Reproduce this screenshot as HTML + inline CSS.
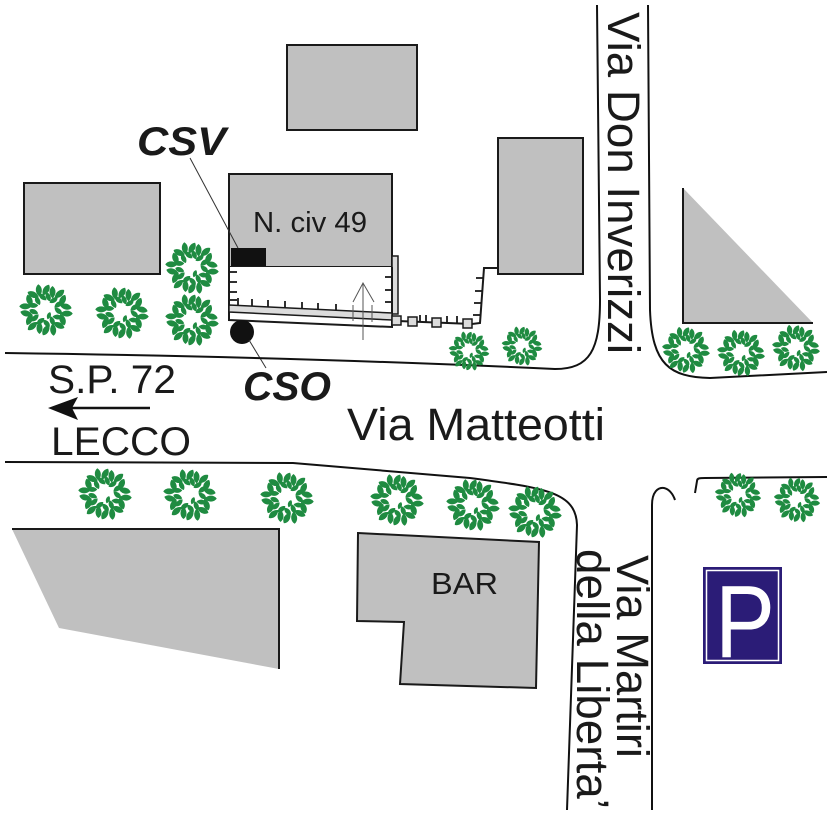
<!DOCTYPE html>
<html>
<head>
<meta charset="utf-8">
<style>
html,body{margin:0;padding:0;background:#fff;}
svg{display:block;}
text{font-family:"Liberation Sans",Arial,sans-serif;fill:#1a1a1a;}
</style>
</head>
<body>
<svg width="827" height="827" viewBox="0 0 827 827" xmlns="http://www.w3.org/2000/svg">
<defs>
  <path id="L" d="M0,-6.5 C4.2,-3.5 4.2,2.5 0,6.5 C-4.2,2.5 -4.2,-3.5 0,-6.5Z"/>
  <path id="S" d="M0,-5 C3.4,-2.8 3.4,2 0,5 C-3.4,2 -3.4,-2.8 0,-5Z"/>
  <g id="tree" fill="#1f8b41">
    <use href="#L" transform="rotate(0) translate(0,-21) rotate(30)"/>
    <use href="#L" transform="rotate(20) translate(0,-20) rotate(-20)"/>
    <use href="#L" transform="rotate(40) translate(0,-22) rotate(10)"/>
    <use href="#L" transform="rotate(60) translate(0,-20) rotate(-35)"/>
    <use href="#L" transform="rotate(80) translate(0,-21) rotate(25)"/>
    <use href="#L" transform="rotate(100) translate(0,-22) rotate(-10)"/>
    <use href="#L" transform="rotate(120) translate(0,-20) rotate(40)"/>
    <use href="#L" transform="rotate(140) translate(0,-21) rotate(-25)"/>
    <use href="#L" transform="rotate(160) translate(0,-22) rotate(15)"/>
    <use href="#L" transform="rotate(180) translate(0,-21) rotate(30)"/>
    <use href="#L" transform="rotate(200) translate(0,-20) rotate(-20)"/>
    <use href="#L" transform="rotate(220) translate(0,-22) rotate(10)"/>
    <use href="#L" transform="rotate(240) translate(0,-20) rotate(-35)"/>
    <use href="#L" transform="rotate(260) translate(0,-21) rotate(25)"/>
    <use href="#L" transform="rotate(280) translate(0,-22) rotate(-10)"/>
    <use href="#L" transform="rotate(300) translate(0,-20) rotate(40)"/>
    <use href="#L" transform="rotate(320) translate(0,-21) rotate(-25)"/>
    <use href="#L" transform="rotate(340) translate(0,-22) rotate(15)"/>
    <use href="#S" transform="rotate(10) translate(0,-14) rotate(-30)"/>
    <use href="#S" transform="rotate(38) translate(0,-13) rotate(20)"/>
    <use href="#S" transform="rotate(66) translate(0,-14) rotate(-15)"/>
    <use href="#S" transform="rotate(94) translate(0,-13) rotate(35)"/>
    <use href="#S" transform="rotate(122) translate(0,-14) rotate(-25)"/>
    <use href="#S" transform="rotate(150) translate(0,-13) rotate(10)"/>
    <use href="#S" transform="rotate(178) translate(0,-14) rotate(-40)"/>
    <use href="#S" transform="rotate(206) translate(0,-13) rotate(25)"/>
    <use href="#S" transform="rotate(234) translate(0,-14) rotate(-10)"/>
    <use href="#S" transform="rotate(262) translate(0,-13) rotate(30)"/>
    <use href="#S" transform="rotate(290) translate(0,-14) rotate(-20)"/>
    <use href="#S" transform="rotate(318) translate(0,-13) rotate(15)"/>
    <use href="#S" transform="rotate(346) translate(0,-14) rotate(-35)"/>
    <use href="#S" transform="translate(3,6) rotate(20) scale(0.8)"/>
  </g>
</defs>

<!-- buildings top -->
<rect x="287" y="45" width="130" height="85" fill="#c0c0c0" stroke="#1a1a1a" stroke-width="2"/>
<rect x="24" y="183" width="136" height="91" fill="#c0c0c0" stroke="#1a1a1a" stroke-width="2"/>
<rect x="229" y="174" width="163" height="93" fill="#c0c0c0" stroke="#1a1a1a" stroke-width="2"/>
<rect x="231" y="248" width="35" height="18" fill="#111"/>
<rect x="498" y="138" width="85" height="136" fill="#c0c0c0" stroke="#1a1a1a" stroke-width="2"/>
<polygon points="683,188 813,323 683,323" fill="#c0c0c0"/>
<polyline points="683,188 683,323 813,323" fill="none" stroke="#1a1a1a" stroke-width="2"/>

<!-- courtyard -->
<rect x="392" y="256" width="6" height="58" fill="#dcdcdc" stroke="#1a1a1a" stroke-width="1.5"/>
<polygon points="229,267 392,267 392,327 229,320" fill="#fff"/>
<polyline points="229,267 229,320 392,327 392,267" fill="none" stroke="#1a1a1a" stroke-width="2"/>
<polygon points="229,305 392,313 392,320 229,312" fill="#dcdcdc" stroke="#1a1a1a" stroke-width="1.5"/>
<g stroke="#1a1a1a" stroke-width="1.8">
  <line x1="229" y1="272" x2="237" y2="272"/>
  <line x1="229" y1="282" x2="237" y2="282"/>
  <line x1="229" y1="292" x2="237" y2="292"/>
  <line x1="229" y1="300" x2="237" y2="300"/>
  <line x1="392" y1="277" x2="385" y2="277"/>
  <line x1="392" y1="290" x2="385" y2="290"/>
  <line x1="392" y1="302" x2="385" y2="302"/>
  <line x1="238" y1="298" x2="238" y2="305.5"/>
  <line x1="252" y1="299" x2="252" y2="306.2"/>
  <line x1="268" y1="300" x2="268" y2="307"/>
  <line x1="285" y1="301" x2="285" y2="307.8"/>
  <line x1="302" y1="302" x2="302" y2="308.6"/>
  <line x1="318" y1="303" x2="318" y2="309.4"/>
  <line x1="336" y1="304" x2="336" y2="310.3"/>
</g>
<g stroke="#555" stroke-width="1" fill="none">
  <line x1="363" y1="283" x2="363" y2="340"/>
  <polyline points="353,302 363,283 374,302"/>
  <line x1="353" y1="305" x2="353" y2="321"/>
  <line x1="372" y1="305" x2="372" y2="322"/>
</g>

<!-- fence -->
<polyline points="398,321 472,324 480,323 484,268 497,268" fill="none" stroke="#1a1a1a" stroke-width="2"/>
<g stroke="#1a1a1a" stroke-width="1.8">
  <line x1="420" y1="322" x2="420" y2="315"/>
  <line x1="426" y1="322" x2="426" y2="315"/>
  <line x1="447" y1="323" x2="447" y2="316"/>
  <line x1="457" y1="323" x2="457" y2="316"/>
  <line x1="483" y1="278" x2="476" y2="278"/>
  <line x1="482" y1="291" x2="475" y2="291"/>
  <line x1="481" y1="303" x2="474" y2="303"/>
  <line x1="480" y1="315" x2="473" y2="315"/>
</g>
<g fill="#dcdcdc" stroke="#1a1a1a" stroke-width="1.5">
  <rect x="392" y="316" width="9" height="9"/>
  <rect x="408" y="317" width="9" height="9"/>
  <rect x="432" y="318" width="9" height="9"/>
  <rect x="463" y="319" width="9" height="9"/>
</g>

<!-- CSO marker and leader lines -->
<circle cx="242" cy="332" r="12" fill="#111"/>
<line x1="249" y1="340" x2="266" y2="368" stroke="#333" stroke-width="1"/>
<line x1="190" y1="158" x2="238" y2="248" stroke="#333" stroke-width="1"/>

<!-- roads -->
<g fill="none" stroke="#111" stroke-width="2">
  <path d="M5,353 Q300,357 555,369 C590,369 600,350 600,300 L597,5"/>
  <path d="M648,5 L650,310 C652,365 670,377 710,378 L827,372"/>
  <path d="M5,462 L293,463 L470,478 C545,488 576,492 577,525 L567,810"/>
  <path d="M652,810 L652,505 C652,492 658,487 664,488 C669,489 673,494 675,500"/>
  <path d="M695,493 L697,481 C697,478 700,478 705,478 L827,477"/>
</g>

<!-- bottom buildings -->
<polygon points="12,529 279,529 279,669 59,628" fill="#c0c0c0"/>
<polyline points="12,529 279,529 279,669" fill="none" stroke="#1a1a1a" stroke-width="2"/>
<polygon points="358,533 539,542 536,688 400,684 404,622 357,621" fill="#c0c0c0" stroke="#1a1a1a" stroke-width="2"/>

<!-- parking sign -->
<rect x="703" y="567" width="79" height="97" fill="#2b1c77"/>
<rect x="706.5" y="570.5" width="72" height="90" fill="none" stroke="#fff" stroke-width="1.5"/>
<text x="715" y="657" font-size="103" textLength="60" lengthAdjust="spacingAndGlyphs" style="fill:#fff">P</text>

<!-- trees -->
<use href="#tree" transform="translate(46,310) scale(0.95)"/>
<use href="#tree" transform="translate(122,313) scale(0.95)"/>
<use href="#tree" transform="translate(192,320) scale(0.95)"/>
<use href="#tree" transform="translate(192,268) scale(0.95)"/>
<use href="#tree" transform="translate(469,351) scale(0.72)"/>
<use href="#tree" transform="translate(522,346) scale(0.72)"/>
<use href="#tree" transform="translate(686,350) scale(0.85)"/>
<use href="#tree" transform="translate(741,353) scale(0.85)"/>
<use href="#tree" transform="translate(796,348) scale(0.85)"/>
<use href="#tree" transform="translate(105,494) scale(0.95)"/>
<use href="#tree" transform="translate(190,495) scale(0.95)"/>
<use href="#tree" transform="translate(287,498) scale(0.95)"/>
<use href="#tree" transform="translate(397,500) scale(0.95)"/>
<use href="#tree" transform="translate(473,505) scale(0.95)"/>
<use href="#tree" transform="translate(535,512) scale(0.95)"/>
<use href="#tree" transform="translate(738,495) scale(0.82)"/>
<use href="#tree" transform="translate(797,500) scale(0.82)"/>

<!-- arrow -->
<line x1="72" y1="408" x2="150" y2="408" stroke="#111" stroke-width="2.5"/>
<polygon points="48,408 78,397 72,408 78,420" fill="#111"/>

<!-- labels -->
<text x="137" y="155" font-size="40" font-weight="bold" font-style="italic" textLength="89" lengthAdjust="spacingAndGlyphs">CSV</text>
<text x="243" y="400" font-size="40" font-weight="bold" font-style="italic" textLength="88" lengthAdjust="spacingAndGlyphs">CSO</text>
<text x="253" y="232" font-size="29" textLength="114" lengthAdjust="spacingAndGlyphs">N. civ 49</text>
<text x="48" y="393" font-size="40" textLength="128" lengthAdjust="spacingAndGlyphs">S.P. 72</text>
<text x="51" y="455" font-size="40" textLength="140" lengthAdjust="spacingAndGlyphs">LECCO</text>
<text x="347" y="440" font-size="45" textLength="258" lengthAdjust="spacingAndGlyphs">Via Matteotti</text>
<text x="431" y="594" font-size="31" textLength="67" lengthAdjust="spacingAndGlyphs">BAR</text>
<text transform="translate(608,12) rotate(90)" x="0" y="0" font-size="45" textLength="342" lengthAdjust="spacingAndGlyphs">Via Don Inverizzi</text>
<text transform="translate(617,555) rotate(90)" x="0" y="0" font-size="45" textLength="203" lengthAdjust="spacingAndGlyphs">Via Martiri</text>
<text transform="translate(577,549) rotate(90)" x="0" y="0" font-size="45" textLength="260" lengthAdjust="spacingAndGlyphs">della Liberta’</text>
</svg>
</body>
</html>
